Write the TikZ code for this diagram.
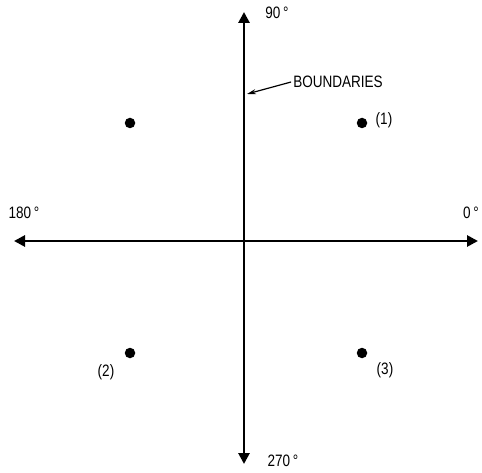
\documentclass[tikz,border=0pt]{standalone}
\usepackage{fontspec}
\setmainfont{Liberation Sans}[FakeStretch=0.82]
\usetikzlibrary{arrows.meta}

\begin{document}
\begin{tikzpicture}[x=1pt,y=-1pt,font=\fontsize{16.5}{16.5}\selectfont,
  axis/.style={line width=2.8pt,{Triangle[length=11pt,width=11pt]}-{Triangle[length=11pt,width=11pt]}},
  dot/.style={circle,fill,inner sep=0pt,minimum size=10.5pt}]
  \useasboundingbox (0,0) rectangle (482,473);
  % axes
  \coordinate (W) at (14,241);
  \coordinate (E) at (478,241);
  \coordinate (N) at (244,12);
  \coordinate (S) at (244,464);
  \draw[axis] (W) -- (E);
  \draw[axis] (S) -- (N);
  \node (a90) at (277,13) {90\,°};
  \node (a180) at (24,213) {180\,°};
  \node (a0) at (471,213) {0\,°};
  \node (a270) at (283,461) {270\,°};
  % points
  \node[dot] (p0) at (130,123) {};
  \node[dot] (p1) at (362,123) {};
  \node[dot] (p2) at (130,353) {};
  \node[dot] (p3) at (362,353) {};
  \node (l1) at (384,120) {(1)};
  \node (l2) at (106,372) {(2)};
  \node (l3) at (385,370) {(3)};
  % boundaries
  \node[inner sep=2pt] (bnd) at (338,82) {BOUNDARIES};
  \coordinate (bt) at (247,94);
  \draw[line width=1.2pt,-{Stealth[length=9pt,width=5pt]}] (bnd.west) -- (bt);
\end{tikzpicture}
\end{document}
